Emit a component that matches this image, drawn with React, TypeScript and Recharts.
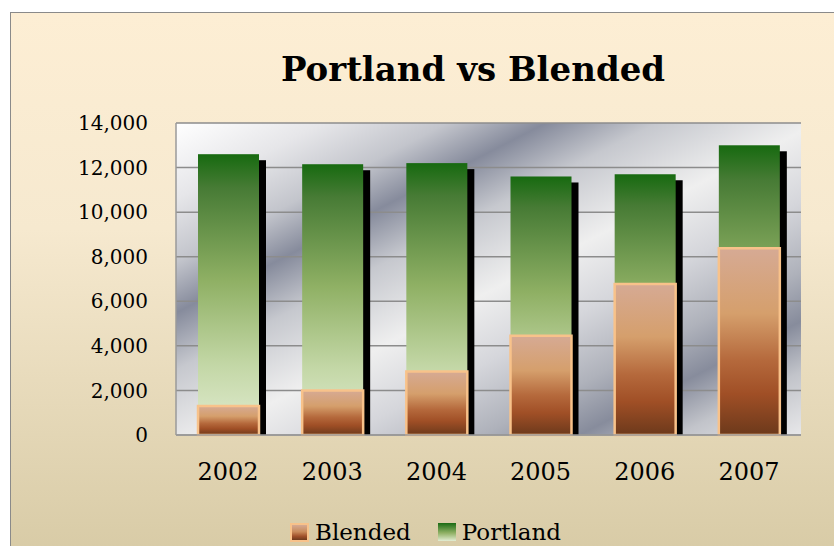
import React from 'react';
import { BarChart, Bar, XAxis, YAxis, CartesianGrid, Legend } from 'recharts';

const years = ['2002', '2003', '2004', '2005', '2006', '2007'];
const portland = [12600, 12150, 12200, 11600, 11700, 13000];
const blended = [1300, 2000, 2850, 4450, 6780, 8380];
const yTicks = [0, 2000, 4000, 6000, 8000, 10000, 12000, 14000];
const legendOrder = ['blended', 'portland'];

const data = years.map((year, i) => ({ year, portland: portland[i], blended: blended[i] }));

const FONT = '"DejaVu Serif", serif';

// green bar with a black drop shadow to the right
const PortlandShape = (props: any) => {
  const { x, y, width, height } = props;
  if (!height || height <= 0) return null;
  return (
    <g>
      <rect x={x + 7} y={y + 6} width={width} height={height - 6} fill="#000" />
      <rect x={x} y={y} width={width} height={height} fill="url(#portlandFill)" />
    </g>
  );
};

const swatch: Record<string, React.CSSProperties> = {
  blended: {
    width: 15,
    height: 15,
    border: '2px solid #f8c28a',
    background: 'linear-gradient(#d6aa92, #c98a5a 45%, #a0502a 75%, #6e3a1c)',
  },
  portland: {
    width: 18,
    height: 18,
    background: 'linear-gradient(#1a6b14, #8fb064 55%, #e2ecd2)',
  },
};

const LegendContent = (props: any) => {
  const items = [...(props.payload || [])].sort(
    (a: any, b: any) => legendOrder.indexOf(a.dataKey) - legendOrder.indexOf(b.dataKey)
  );
  return (
    <div style={{ display: 'flex', alignItems: 'center', fontFamily: FONT, fontSize: 23, color: '#000' }}>
      {items.map((item: any, i: number) => (
        <div key={item.dataKey} style={{ display: 'flex', alignItems: 'center', marginLeft: i ? 27 : 0 }}>
          <span style={{ display: 'inline-block', ...swatch[item.dataKey] }} />
          <span style={{ marginLeft: 6 }}>{item.value}</span>
        </div>
      ))}
    </div>
  );
};

export default function App() {
  return (
    <div style={{ position: 'absolute', left: 0, top: 0, width: 834, height: 546, overflow: 'hidden', background: '#fff' }}>
      <div
        style={{
          position: 'absolute',
          left: 10,
          top: 12,
          width: 830,
          height: 540,
          borderLeft: '1.5px solid #8a8a8a',
          borderTop: '1.5px solid #8a8a8a',
          background: 'linear-gradient(#fdeed4, #f6e9cf 40%, #d8cba6)',
        }}
      />
      <div
        style={{
          position: 'absolute',
          left: 223,
          top: 52,
          width: 500,
          textAlign: 'center',
          whiteSpace: 'nowrap',
          fontFamily: FONT,
          fontWeight: 'bold',
          fontSize: 34,
          lineHeight: '34px',
          color: '#000',
        }}
      >
        Portland vs Blended
      </div>
      <div style={{ position: 'absolute', left: 0, top: 0 }}>
        <BarChart
          width={834}
          height={546}
          data={data}
          margin={{ top: 123, right: 33, bottom: 81, left: 0 }}
          barSize={61}
          barGap={-61}
        >
          <defs>
            <linearGradient id="plotBg" gradientUnits="userSpaceOnUse" x1={176} y1={123} x2={433} y2={624}>
              <stop offset="0" stopColor="#ffffff" />
              <stop offset="0.12" stopColor="#e6e6e9" />
              <stop offset="0.22" stopColor="#c3c5cc" />
              <stop offset="0.30" stopColor="#868b9c" />
              <stop offset="0.39" stopColor="#c6c8ce" />
              <stop offset="0.52" stopColor="#efefef" />
              <stop offset="0.63" stopColor="#d5d6db" />
              <stop offset="0.74" stopColor="#afb2bb" />
              <stop offset="0.82" stopColor="#878c9c" />
              <stop offset="0.9" stopColor="#c2c4ca" />
              <stop offset="1" stopColor="#e8e8ea" />
            </linearGradient>
            <linearGradient id="portlandFill" x1="0" y1="0" x2="0" y2="1">
              <stop offset="0" stopColor="#176a10" />
              <stop offset="0.12" stopColor="#477b35" />
              <stop offset="0.45" stopColor="#8fb064" />
              <stop offset="0.75" stopColor="#c3d7a6" />
              <stop offset="1" stopColor="#e2ecd2" />
            </linearGradient>
            <linearGradient id="blendedFill" x1="0" y1="0" x2="0" y2="1">
              <stop offset="0" stopColor="#d6aa94" />
              <stop offset="0.35" stopColor="#d59f6c" />
              <stop offset="0.6" stopColor="#b5693c" />
              <stop offset="0.78" stopColor="#a04f26" />
              <stop offset="1" stopColor="#6c391b" />
            </linearGradient>
          </defs>
          <CartesianGrid vertical={false} stroke="#8c8c8c" strokeWidth={1.5} fill="url(#plotBg)" fillOpacity={1} />
          <XAxis
            dataKey="year"
            height={30}
            tickLine={false}
            tickSize={0}
            tickMargin={28}
            axisLine={{ stroke: '#9a9a9a', strokeWidth: 1.5 }}
            tick={{ fill: '#000', fontFamily: FONT, fontSize: 24 }}
          />
          <YAxis
            width={176}
            domain={[0, 14000]}
            ticks={yTicks}
            tickLine={false}
            tickSize={0}
            tickMargin={28}
            axisLine={{ stroke: '#9a9a9a', strokeWidth: 1.5 }}
            tickFormatter={(v: number) => v.toLocaleString('en-US')}
            tick={{ fill: '#000', fontFamily: FONT, fontSize: 20 }}
          />
          <Legend
            layout="horizontal"
            verticalAlign="middle"
            align="center"
            content={<LegendContent />}
            wrapperStyle={{ top: 519, left: 290, width: 400, height: 26 }}
          />
          <Bar dataKey="portland" name="Portland" shape={<PortlandShape />} isAnimationActive={false} />
          <Bar
            dataKey="blended"
            name="Blended"
            fill="url(#blendedFill)"
            stroke="#f8c28a"
            strokeWidth={2.5}
            isAnimationActive={false}
          />
        </BarChart>
      </div>
    </div>
  );
}
